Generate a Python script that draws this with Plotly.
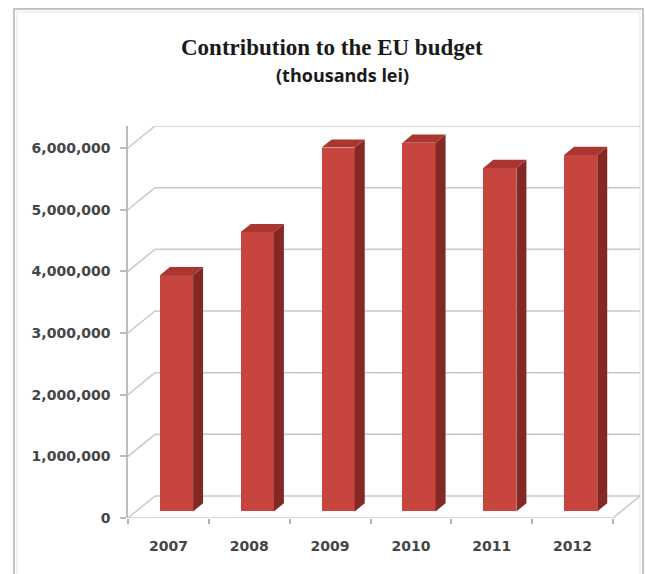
import plotly.graph_objects as go

# ---- data ----
years = ["2007", "2008", "2009", "2010", "2011", "2012"]
values = [3830000, 4530000, 5900000, 5980000, 5570000, 5780000]
y_ticks = [0, 1000000, 2000000, 3000000, 4000000, 5000000, 6000000]

# ---- layout geometry (pixels) ----
W, H = 645, 574
L, R, T, B = 128, 640, 126, 518        # plot area
FRONT_RIGHT = 613                      # right end of front floor edge
Y6_PX = 148                            # pixel of 6,000,000 on front plane
pxu = (FRONT_RIGHT - L) / len(years)   # pixels per category
pyu = (B - Y6_PX) / 6000000            # pixels per value unit
Dx = (R - FRONT_RIGHT) / pxu           # full depth in x units
Dy = (Y6_PX - T) / pyu                 # full depth in y units
F0, FD, BW = 0.30, 0.37, 0.41          # bar front depth, bar depth, bar width

x0 = -0.5
x_range = [x0, x0 + (R - L) / pxu]
y_range = [0, (B - T) / pyu]

FRONT = "#C7453F"
SIDE = "#842826"
TOP = "#A9372F"
GRID = "#C9C9C9"
TXT = "#454545"

def px_x(p):
    return (p - L) / (R - L)

def px_y(p):
    return (B - p) / (B - T)

fig = go.Figure()

# front faces of the bars
xs = [i + F0 * Dx for i in range(len(years))]
fig.add_trace(go.Bar(
    x=xs, y=values, base=F0 * Dy, width=BW,
    marker=dict(color=FRONT, line=dict(width=0)),
    hoverinfo="skip", showlegend=False))

# side and top faces
for xc, v in zip(xs, values):
    xl, xr = xc - BW / 2, xc + BW / 2
    b = F0 * Dy
    t = v + F0 * Dy
    ox, oy = FD * Dx, FD * Dy
    fig.add_trace(go.Scatter(
        x=[xr, xr + ox, xr + ox, xr, xr], y=[b, b + oy, t + oy, t, b],
        fill="toself", fillcolor=SIDE, mode="lines", line=dict(width=0, color=SIDE),
        hoverinfo="skip", showlegend=False))
    fig.add_trace(go.Scatter(
        x=[xl, xr, xr + ox, xl + ox, xl], y=[t, t, t + oy, t + oy, t],
        fill="toself", fillcolor=TOP, mode="lines", line=dict(width=0, color=TOP),
        hoverinfo="skip", showlegend=False))

# gridlines on left wall + back wall (below traces)
shapes = []
x_end = x0 + len(years)
for v in y_ticks:
    shapes.append(dict(type="line", xref="x", yref="y", layer="below",
                       x0=x0, y0=v, x1=x0 + Dx, y1=v + Dy,
                       line=dict(color=GRID, width=1.5)))
    shapes.append(dict(type="line", xref="x", yref="y", layer="below",
                       x0=x0 + Dx, y0=v + Dy, x1=x_end + Dx, y1=v + Dy,
                       line=dict(color=GRID, width=1.5)))
# floor front edge and right edge
shapes.append(dict(type="line", xref="x", yref="y", layer="below",
                   x0=x0, y0=0, x1=x_end, y1=0, line=dict(color=GRID, width=1.5)))
shapes.append(dict(type="line", xref="x", yref="y", layer="below",
                   x0=x_end, y0=0, x1=x_end + Dx, y1=Dy, line=dict(color=GRID, width=1.5)))
# chart frame
shapes.append(dict(type="rect", xref="paper", yref="paper", layer="below",
                   x0=px_x(14), y0=px_y(600), x1=px_x(643), y1=px_y(9),
                   line=dict(color="#C4C4C4", width=2)))
shapes.append(dict(type="rect", xref="paper", yref="paper", layer="below",
                   x0=px_x(17), y0=px_y(600), x1=px_x(640), y1=px_y(12),
                   line=dict(color="#EDEDED", width=1.5)))

annotations = [
    dict(text="<b>Contribution to the EU budget</b>", xref="paper", yref="paper",
         x=px_x(332), y=px_y(47), showarrow=False, xanchor="center", yanchor="middle",
         font=dict(family="Liberation Serif", size=23, color="#1A1A1A")),
    dict(text="<b>(thousands lei)</b>", xref="paper", yref="paper",
         x=px_x(342), y=px_y(75), showarrow=False, xanchor="center", yanchor="middle",
         font=dict(family="Open Sans", size=18, color="#1A1A1A")),
]

fig.update_layout(
    width=W, height=H,
    margin=dict(l=L, r=W - R, t=T, b=H - B, pad=0),
    paper_bgcolor="white", plot_bgcolor="rgba(0,0,0,0)",
    shapes=shapes, annotations=annotations,
    bargap=0,
)
fig.update_xaxes(
    range=x_range, showgrid=False, zeroline=False, showline=False,
    tickmode="array", tickvals=list(range(len(years))), ticktext=years,
    ticks="", ticklabelstandoff=18,
    tickfont=dict(family="DejaVu Sans", size=14, color=TXT, weight="bold"),
    minor=dict(tickmode="array", tickvals=[x0 + k for k in range(len(years) + 1)],
               ticks="outside", ticklen=5, tickcolor="#B0B0B0", tickwidth=1.5),
)
fig.update_yaxes(
    range=y_range, showgrid=False, zeroline=False,
    showline=True, linecolor="#BDBDBD", linewidth=1.5,
    tickmode="array", tickvals=y_ticks, tickformat=",",
    ticks="outside", ticklen=6, tickcolor="#BDBDBD", tickwidth=1.5,
    ticklabelstandoff=7,
    tickfont=dict(family="DejaVu Sans", size=14, color=TXT, weight="bold"),
)

fig.write_html("out.html")
